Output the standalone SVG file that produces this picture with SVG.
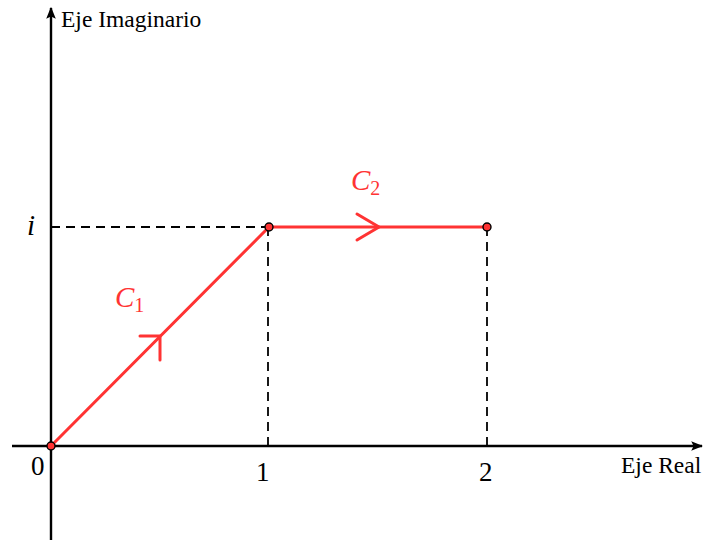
<svg xmlns="http://www.w3.org/2000/svg" width="703" height="540" viewBox="0 0 703 540">
<style>
.axis{stroke:#000;stroke-width:2.4;fill:none}
.dash{stroke:#000;stroke-width:1.8;stroke-dasharray:9,6;fill:none}
.path{stroke:#ff3333;stroke-width:3;fill:none;stroke-linecap:round}
.dot{fill:#ff3333;stroke:#000;stroke-width:1.4}
.t{font-family:"Liberation Serif",serif;fill:#000}
.m{font-family:"Liberation Serif",serif;font-style:italic}
</style>
<defs>
<marker id="ah" viewBox="0 0 10 10" refX="9" refY="5" markerWidth="5" markerHeight="5" orient="auto" markerUnits="strokeWidth">
<path d="M0,1 L10,5 L0,9 L2,5 Z" fill="#000"/>
</marker>
</defs>
<g id="connectors">
<line class="axis" x1="12" y1="446" x2="702" y2="446" marker-end="url(#ah)"/>
<line class="axis" x1="51" y1="540" x2="51" y2="8" marker-end="url(#ah)"/>
<line class="dash" x1="51" y1="227" x2="268" y2="227"/>
<line class="dash" x1="268" y1="227" x2="268" y2="446"/>
<line class="dash" x1="487" y1="227" x2="487" y2="446"/>
<line class="path" x1="51" y1="446" x2="269" y2="227"/>
<line class="path" x1="269" y1="227" x2="487" y2="227"/>
<polyline class="path" points="140,336 160,336 160,360"/>
<polyline class="path" points="357,214 379,227 357,240"/>
</g>
<g id="p0"><circle class="dot" cx="51" cy="446" r="4"/></g>
<g id="p1"><circle class="dot" cx="269" cy="227" r="4"/></g>
<g id="p2"><circle class="dot" cx="487" cy="227" r="4"/></g>
<g id="labels">
<text class="t" x="61" y="27" font-size="23.5">Eje Imaginario</text>
<text class="t" x="621" y="473" font-size="23.5">Eje Real</text>
<text class="t m" x="27" y="235" font-size="29">i</text>
<text class="t" x="31" y="475" font-size="27">0</text>
<text class="t" x="256" y="481" font-size="27">1</text>
<text class="t" x="479" y="481" font-size="27">2</text>
<text x="115" y="307" font-size="29" fill="#ff3333" class="m">C<tspan font-style="normal" font-size="20" dy="5">1</tspan></text>
<text x="351" y="190" font-size="29" fill="#ff3333" class="m">C<tspan font-style="normal" font-size="20" dy="5">2</tspan></text>
</g>
</svg>
